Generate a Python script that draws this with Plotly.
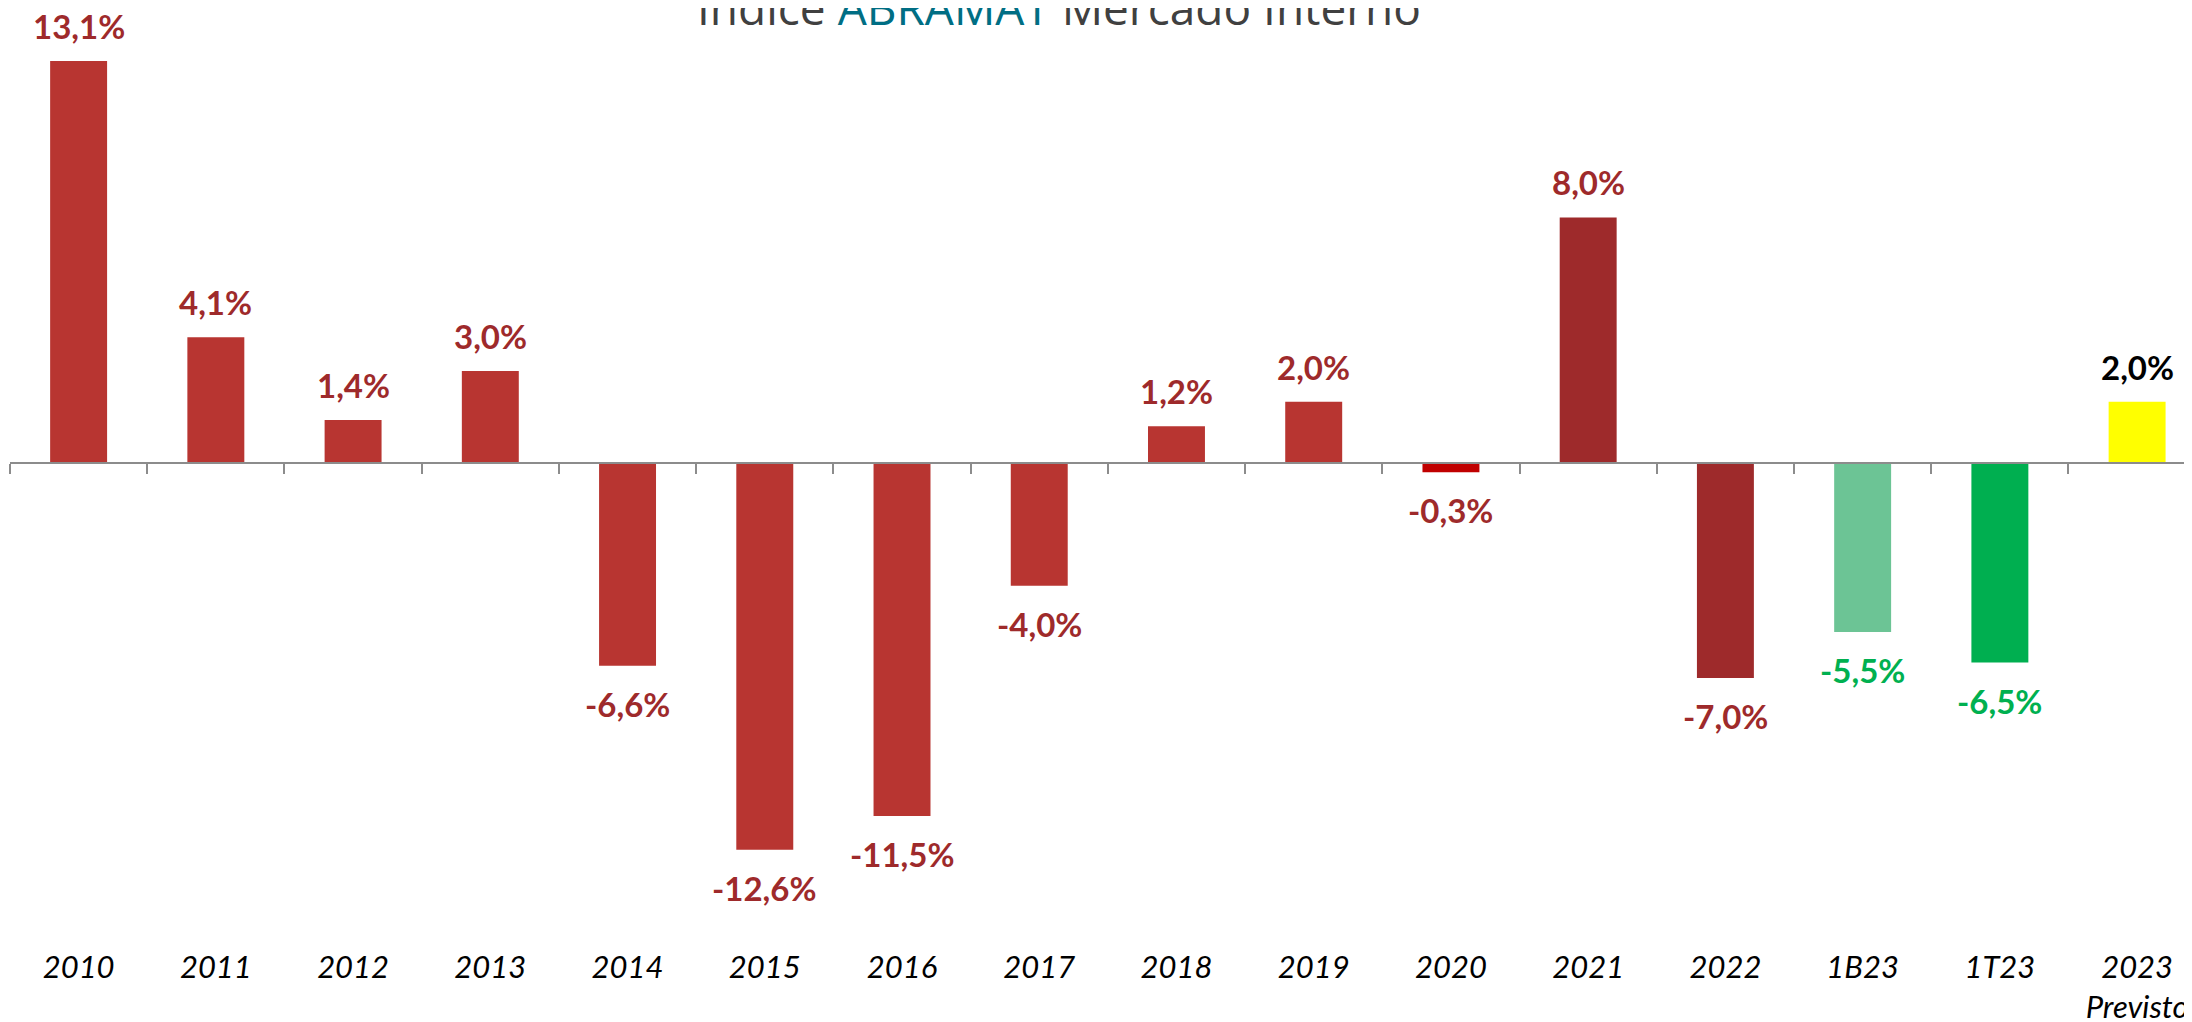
import plotly.graph_objects as go

categories = ["2010", "2011", "2012", "2013", "2014", "2015", "2016", "2017",
              "2018", "2019", "2020", "2021", "2022", "1B23", "1T23", "2023"]
tick_labels = ["2010", "2011", "2012", "2013", "2014", "2015", "2016", "2017",
               "2018", "2019", "2020", "2021", "2022", "1B23", "1T23", "2023<br>Previsto"]
values = [13.1, 4.1, 1.4, 3.0, -6.6, -12.6, -11.5, -4.0,
          1.2, 2.0, -0.3, 8.0, -7.0, -5.5, -6.5, 2.0]
bar_colors = ["#B83531"] * 10 + ["#C00000", "#9E2A2B", "#9E2A2B",
                                  "#6CC495", "#00AF50", "#FFFF00"]
label_colors = ["#9E2A2B"] * 13 + ["#00B050", "#00B050", "#000000"]

fig = go.Figure()
fig.add_trace(go.Bar(
    x=categories, y=values, marker=dict(color=bar_colors, line=dict(width=0)),
    showlegend=False, hoverinfo="skip", xaxis="x", yaxis="y",
))
# invisible helper trace for the zero-line category axis
fig.add_trace(go.Scatter(
    x=categories, y=values, mode="markers", marker=dict(opacity=0, size=1),
    showlegend=False, hoverinfo="skip", xaxis="x2", yaxis="y",
))

for i, (v, c) in enumerate(zip(values, label_colors)):
    txt = ("%.1f%%" % v).replace(".", ",")
    fig.add_annotation(
        x=i, y=v, xref="x", yref="y", text=txt, showarrow=False,
        yshift=35 if v >= 0 else -38, yanchor="middle",
        font=dict(family="Lato, sans-serif", size=33, color=c, weight="bold"),
    )

fig.add_annotation(
    x=0.4808, xref="paper", y=1, yref="paper", yanchor="bottom", yshift=0,
    showarrow=False,
    text="Índice <span style='color:#006E84'>ABRAMAT</span> Mercado Interno",
    font=dict(family="Open Sans, sans-serif", size=46, color="#404040"),
)

y_min, y_max = -14.95, 13.78
zero_pos = (0 - y_min) / (y_max - y_min)

fig.update_layout(
    width=2192, height=1022,
    margin=dict(l=2, r=8, t=32, b=108),
    paper_bgcolor="white", plot_bgcolor="white",
    bargap=0.585,
    xaxis=dict(
        type="category", range=[-0.5, 15.40], tickvals=categories, ticktext=tick_labels,
        showline=False, ticks="", showgrid=False, zeroline=False,
        tickfont=dict(family="Lato, sans-serif", size=31, color="#000000", style="italic"),
        ticklabelstandoff=24,
    ),
    xaxis2=dict(
        type="category", matches="x", overlaying="x", anchor="free", position=zero_pos,
        showline=True, linecolor="#8C8C8C", linewidth=2,
        ticks="outside", tickson="boundaries", ticklen=10, tickwidth=2, tickcolor="#8C8C8C",
        showticklabels=False, showgrid=False, zeroline=False,
    ),
    yaxis=dict(range=[y_min, y_max], visible=False, showgrid=False, zeroline=False),
)

fig.write_html("out.html")
